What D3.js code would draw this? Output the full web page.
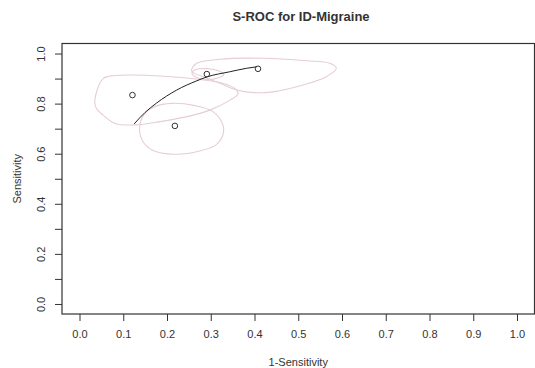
<!DOCTYPE html>
<html>
<head>
<meta charset="utf-8">
<title>S-ROC for ID-Migraine</title>
<script src="https://cdn.jsdelivr.net/npm/d3@7"></script>
<style>
  body { margin: 0; background: #fff; }
  text { font-family: "Liberation Sans", Arial, sans-serif; fill: #333; }
</style>
</head>
<body>
<div id="chart"></div>
<script>
// study points (1-specificity, sensitivity)
var studyX = [0.121, 0.218, 0.291, 0.408];
var studyY = [0.834, 0.711, 0.918, 0.939];

// summary ROC curve
var srocX = [0.125, 0.150, 0.176, 0.222, 0.268, 0.292, 0.343, 0.382, 0.405];
var srocY = [0.719, 0.765, 0.802, 0.854, 0.891, 0.907, 0.927, 0.941, 0.947];

// confidence regions, outline
var regionA = [[0.035,0.814],[0.054,0.900],[0.081,0.912],[0.122,0.914],[0.184,0.910],[0.275,0.896],[0.325,0.882],
               [0.357,0.858],[0.362,0.838],[0.344,0.814],[0.298,0.774],[0.243,0.747],[0.184,0.728],[0.127,0.715],
               [0.081,0.721],[0.054,0.754],[0.038,0.782]];
var regionB = [[0.211,0.801],[0.264,0.792],[0.303,0.770],[0.325,0.727],[0.329,0.683],[0.312,0.635],[0.275,0.611],
               [0.218,0.598],[0.166,0.615],[0.143,0.655],[0.138,0.715],[0.152,0.766],[0.172,0.788]];
var regionC = [[0.257,0.922],[0.266,0.936],[0.291,0.940],[0.316,0.932],[0.330,0.916],[0.316,0.902],[0.291,0.896],[0.268,0.904]];
var regionD = [[0.256,0.934],[0.268,0.961],[0.321,0.977],[0.420,0.981],[0.519,0.971],[0.572,0.961],[0.587,0.941],
               [0.564,0.907],[0.511,0.874],[0.442,0.847],[0.397,0.844],[0.359,0.854],[0.321,0.881],[0.283,0.907],[0.260,0.924]];

var xTicks = d3.range(0, 11).map(function(d) { return d / 10; });
var yTicks = d3.range(0, 11).map(function(d) { return d / 10; });
var yLabels = [0, 0.2, 0.4, 0.6, 0.8, 1.0];

var width = 535, height = 368;
var box = {left: 62, right: 534.5, top: 43.5, bottom: 314};

var svg = d3.select("#chart").append("svg")
    .attr("width", width)
    .attr("height", height);

var x = d3.scaleLinear().domain([-0.04, 1.04]).range([box.left, box.right]);
var y = d3.scaleLinear().domain([-0.04, 1.04]).range([box.bottom, box.top]);

// regions
var outline = d3.line()
    .x(function(d) { return x(d[0]); })
    .y(function(d) { return y(d[1]); })
    .curve(d3.curveCatmullRomClosed.alpha(0.5));

svg.selectAll("path.region")
    .data([regionA, regionB, regionC, regionD])
    .enter().append("path")
    .attr("class", "region")
    .attr("d", outline)
    .attr("fill", "none")
    .attr("stroke", "#e6cdd4")
    .attr("stroke-width", 1.1);

// sroc curve
var curve = d3.line()
    .x(function(d, i) { return x(srocX[i]); })
    .y(function(d) { return y(d); })
    .curve(d3.curveMonotoneX);

svg.append("path")
    .attr("d", curve(srocY))
    .attr("fill", "none")
    .attr("stroke", "#222")
    .attr("stroke-width", 1);

svg.selectAll("circle.study")
    .data(studyX)
    .enter().append("circle")
    .attr("class", "study")
    .attr("cx", function(d) { return x(d); })
    .attr("cy", function(d, i) { return y(studyY[i]); })
    .attr("r", 2.8)
    .attr("fill", "none")
    .attr("stroke", "#333")
    .attr("stroke-width", 1);

// frame
svg.append("rect")
    .attr("x", box.left)
    .attr("y", box.top)
    .attr("width", box.right - box.left)
    .attr("height", box.bottom - box.top)
    .attr("fill", "none")
    .attr("stroke", "#333")
    .attr("stroke-width", 1.2);

// x axis
var xAxis = d3.axisBottom(x)
    .tickValues(xTicks)
    .tickSize(7)
    .tickPadding(9)
    .tickFormat(d3.format(".1f"));

var gx = svg.append("g")
    .attr("transform", "translate(0," + box.bottom + ")")
    .call(xAxis);
gx.select(".domain").remove();
gx.selectAll("line").attr("stroke", "#333");
gx.selectAll("text")
    .style("font-size", "11px")
    .attr("fill", "#333");

// y axis
var yAxis = d3.axisLeft(y)
    .tickValues(yTicks)
    .tickSize(7)
    .tickFormat(function(d) {
      return yLabels.some(function(v) { return Math.abs(v - d) < 1e-9; }) ? d3.format(".1f")(d) : "";
    });

var gy = svg.append("g")
    .attr("transform", "translate(" + box.left + ",0)")
    .call(yAxis);
gy.select(".domain").remove();
gy.selectAll("line").attr("stroke", "#333");
gy.selectAll("text")
    .style("font-size", "11px")
    .attr("fill", "#333")
    .attr("x", null)
    .attr("dy", null)
    .attr("text-anchor", "middle")
    .attr("dominant-baseline", "central")
    .attr("transform", "translate(-21,0) rotate(-90)");

// titles
svg.append("text")
    .attr("x", 301)
    .attr("y", 21)
    .attr("text-anchor", "middle")
    .style("font-size", "13px")
    .style("font-weight", "bold")
    .attr("fill", "#111")
    .text("S-ROC for ID-Migraine");

svg.append("text")
    .attr("x", (box.left + box.right) / 2)
    .attr("y", 366)
    .attr("text-anchor", "middle")
    .style("font-size", "11px")
    .text("1-Sensitivity");

svg.append("text")
    .attr("transform", "translate(17," + (box.top + box.bottom) / 2 + ") rotate(-90)")
    .attr("text-anchor", "middle")
    .attr("dominant-baseline", "central")
    .style("font-size", "11px")
    .text("Sensitivity");
</script>
</body>
</html>
